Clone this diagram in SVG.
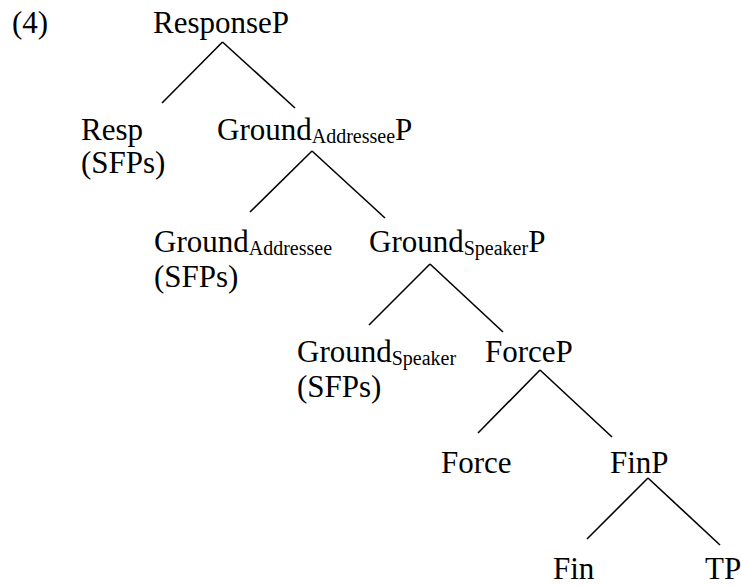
<svg xmlns="http://www.w3.org/2000/svg" width="741" height="586" viewBox="0 0 741 586">
<style>
text{font-family:'Liberation Serif','DejaVu Serif',serif;font-size:31px;fill:#000}
.sub{font-size:20px}
#edges line{stroke:#000;stroke-width:1.6;stroke-linecap:butt}
</style>
<rect width="741" height="586" fill="#fff"/>
<g id="label"><text x="12" y="33">(4)</text></g>
<g id="n-responseP"><text x="153" y="33">ResponseP</text></g>
<g id="n-resp"><text x="81" y="140">Resp</text><text x="81" y="173">(SFPs)</text></g>
<g id="n-groundAddrP"><text x="217" y="140">Ground<tspan class="sub" dy="3">Addressee</tspan><tspan dy="-3">P</tspan></text></g>
<g id="n-groundAddr"><text x="154" y="252">Ground<tspan class="sub" dy="3">Addressee</tspan></text><text x="154" y="287">(SFPs)</text></g>
<g id="n-groundSpkP"><text x="369" y="252">Ground<tspan class="sub" dy="3">Speaker</tspan><tspan dy="-3">P</tspan></text></g>
<g id="n-groundSpk"><text x="297" y="362">Ground<tspan class="sub" dy="3">Speaker</tspan></text><text x="297" y="397">(SFPs)</text></g>
<g id="n-forceP"><text x="485" y="362">ForceP</text></g>
<g id="n-force"><text x="441" y="473">Force</text></g>
<g id="n-finP"><text x="610" y="473">FinP</text></g>
<g id="n-fin"><text x="553" y="579">Fin</text></g>
<g id="n-tp"><text x="705" y="579">TP</text></g>
<g id="edges">
<line x1="222.5" y1="42" x2="162" y2="103"/>
<line x1="222.5" y1="42" x2="295" y2="108"/>
<line x1="312" y1="151" x2="250" y2="212"/>
<line x1="312" y1="151" x2="385" y2="218"/>
<line x1="430" y1="264" x2="369" y2="325"/>
<line x1="430" y1="264" x2="503" y2="332"/>
<line x1="540" y1="370" x2="478" y2="433"/>
<line x1="540" y1="370" x2="612" y2="437"/>
<line x1="648" y1="478" x2="587" y2="539"/>
<line x1="648" y1="478" x2="720" y2="545"/>
</g>
</svg>
